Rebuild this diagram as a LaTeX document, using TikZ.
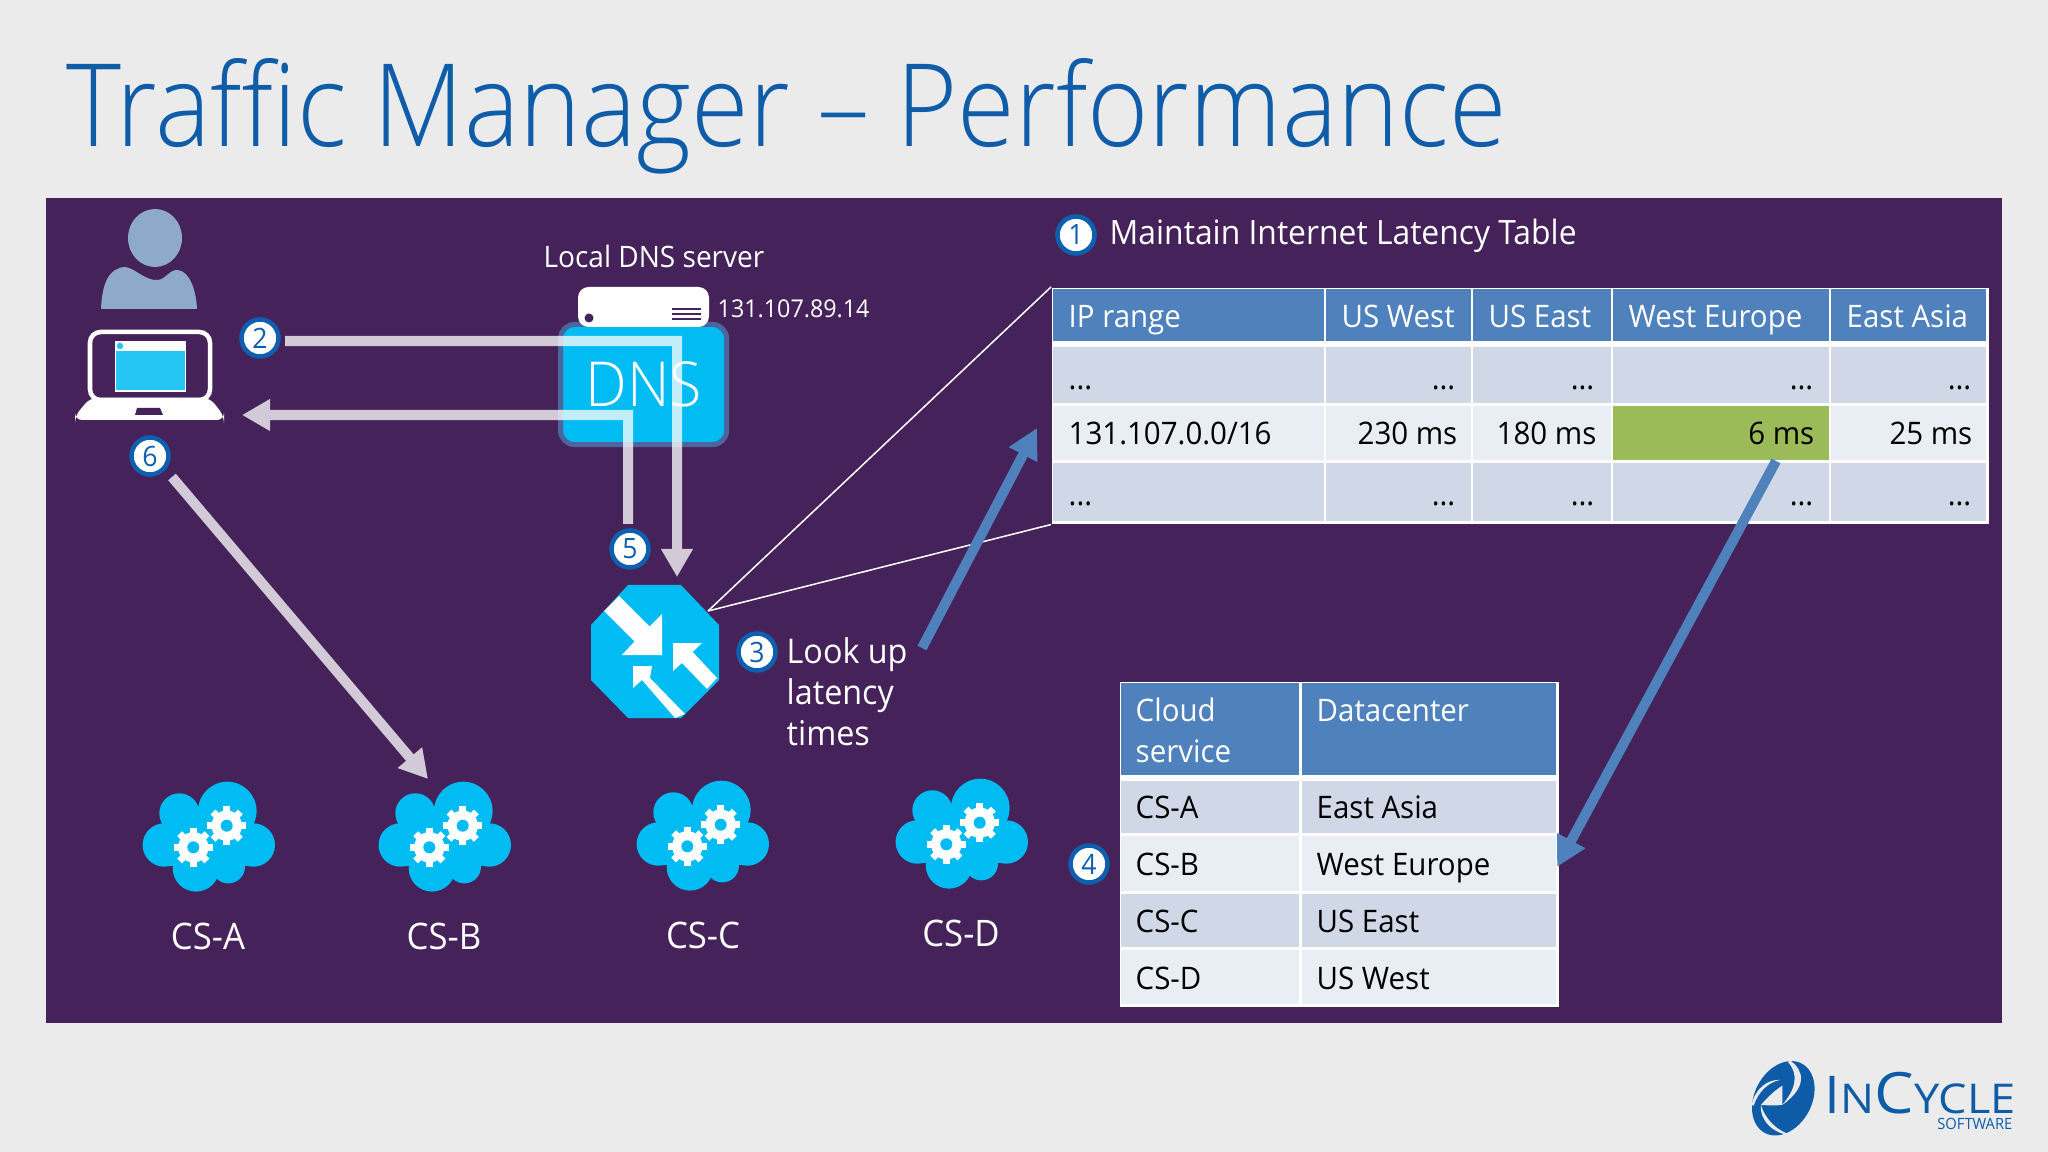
\documentclass[tikz,border=0pt]{standalone}
\usepackage{fontspec}
\usetikzlibrary{arrows.meta,calc}
\setmainfont[FakeStretch=0.95]{Open Sans}
\newfontfamily\lightf[FakeStretch=0.95]{Open Sans Light}
\newfontfamily\titlef[FakeStretch=0.91]{Open Sans Light}
\newfontfamily\logof[FakeStretch=1.1]{Open Sans}
\newcommand\pxf[1]{\fontsize{\fpeval{#1*0.2845}pt}{\fpeval{#1*0.2845*1.2}pt}\selectfont}
\definecolor{pagebg}{HTML}{EBEBEC}
\definecolor{panel}{HTML}{45235A}
\definecolor{cyanb}{HTML}{00BCF2}
\definecolor{hdr}{HTML}{4F81BD}
\definecolor{rowa}{HTML}{D0D8E8}
\definecolor{rowb}{HTML}{E9EDF4}
\definecolor{hlg}{HTML}{9BBB59}
\definecolor{titleb}{HTML}{0F5CA8}
\definecolor{ringb}{HTML}{0F5FB0}
\definecolor{persona}{HTML}{8FA9CB}
\definecolor{logob}{HTML}{0E5CA8}
\tikzset{
  lbl/.style={text=white,inner sep=0pt,font=\pxf{31}},
  th/.style={text=white,inner sep=0pt,font=\pxf{31}},
  td/.style={text=black,inner sep=0pt,font=\pxf{31}},
  badge/.style={circle,draw=ringb,fill=white,line width=0.045cm,minimum size=0.37cm,inner sep=0pt,text=ringb,font=\pxf{28}},
  flow/.style={draw=white,line width=0.1cm,line join=miter,-{Triangle[width=0.3cm,length=0.28cm]}},
  blueflow/.style={draw=hdr,line width=0.1cm,-{Triangle[width=0.3cm,length=0.3cm]}},
  thin link/.style={draw=white,line width=0.015cm},
}
\newcommand\cloudgear[2]{%
  \fill[white] (#1,#2) circle (15.2);
  \foreach \a in {0,45,...,315}{\fill[white,rotate around={\a:(#1,#2)}] ($(#1,#2)+(-3.4,-19.3)$) rectangle ($(#1,#2)+(3.4,0)$);}
  \fill[cyanb] (#1,#2) circle (6);
}
\newcommand\cloud[2]{%
  \begin{scope}[shift={(#1,#2)}]
    \fill[cyanb] (107.3,51) circle (29.3) (59.3,53.3) circle (20) (44.3,85) circle (21.7) (133.3,85) circle (21.7) (76,108.3) circle (23.3) (108.3,106.7) circle (16.7);
    \fill[cyanb] (44,65) rectangle (133,106);
    \fill[cyanb] (70,50) rectangle (120,70);
    \cloudgear{73.3}{87.3}
    \cloudgear{106.7}{65.7}
  \end{scope}}
\begin{document}
\begin{tikzpicture}[x=0.01cm,y=-0.01cm]
\useasboundingbox (0,0) rectangle (2048,1152);
\fill[pagebg] (0,0) rectangle (2048,1152);
\fill[panel] (46,198) rectangle (2002,1023);
\node[anchor=base west,inner sep=0pt,text=titleb,font=\titlef\pxf{115}] (title) at (66,147) {Traffic Manager – Performance};

% person
\fill[persona] (155,238) ellipse (27 and 29);
\fill[persona] (101,309) .. controls (102,285) and (108,268) .. (125,267) .. controls (135,268) and (145,281) .. (158,280) .. controls (166,279) and (170,269) .. (178,270) .. controls (190,272) and (196,290) .. (197,309) -- cycle;
% laptop
\draw[white,line width=0.045cm,rounded corners=3] (90,332) rectangle (210,400);
\fill[white,rounded corners=2] (90,398) -- (210,398) -- (224,416) -- (224,420) -- (75,420) -- (75,416) -- cycle;
\fill[panel] (137,408) -- (160,408) -- (163,415) -- (135,415) -- cycle;
\fill[white] (115,341) rectangle (186,392);
\fill[cyanb!85!white] (116,351) rectangle (185,390);
\fill[cyanb!85!white] (120,346) circle (3.2);

% clouds
\cloud{120}{760}
\cloud{356}{760}
\cloud{614}{759}
\cloud{873}{757}
\node[lbl,anchor=base,font=\pxf{36.5}] (csa) at (208,949) {CS-A};
\node[lbl,anchor=base,font=\pxf{36.5}] (csb) at (444,949) {CS-B};
\node[lbl,anchor=base,font=\pxf{36.5}] (csc) at (703,948) {CS-C};
\node[lbl,anchor=base,font=\pxf{36.5}] (csd) at (961,946) {CS-D};

% DNS
\node[anchor=north west,draw=hdr!70!panel,line width=0.05cm,fill=cyanb,rounded corners=0.14cm,minimum width=1.66cm,minimum height=1.2cm,inner sep=0pt,text=white,font=\lightf\pxf{62}] (dns) at (558,322) {DNS};
\fill[white,rounded corners=3] (578,287) rectangle (709,327);
\fill[panel] (589,318) circle (4.5);
\draw[panel,line width=0.012cm] (672,309) -- (701,309) (672,314) -- (701,314) (672,319) -- (701,319);
\node[lbl,anchor=base,font=\pxf{29.5}] (localdns) at (654,268) {Local DNS server};
\node[lbl,anchor=base west,font=\pxf{24.5}] (ip) at (717,318) {131.107.89.14};

% router
\fill[cyanb] (628,585) -- (681,585) -- (719,625) -- (719,680) -- (681,718) -- (628,718) -- (591,680) -- (591,625) -- cycle;
\fill[white] (604,611) -- (619,596) -- (649.5,626.5) -- (662,614) -- (662,655) -- (622,655) -- (634.5,641.5) -- cycle;
\fill[white] (717,678) -- (692.7,652) -- (702,643) -- (673,643) -- (673,671) -- (682,663) -- (707,689) -- cycle;
\fill[white] (685,714) -- (650,678) -- (652,666) -- (633,666) -- (633,688) -- (642,680) -- (675,718) -- cycle;
\coordinate (rc) at (708,611);

% tables
\node[anchor=north west,fill=white,minimum width=9.37cm,minimum height=2.36cm,inner sep=0pt] (lat) at (1051,287) {};
\foreach \xa/\xb in {1053/1324,1326/1471,1473/1611,1613/1829,1831/1986}{
  \fill[hdr] (\xa,289) rectangle (\xb,341);
  \fill[rowa] (\xa,347) rectangle (\xb,403);
  \fill[rowb] (\xa,406) rectangle (\xb,460);
  \fill[rowa] (\xa,463) rectangle (\xb,521);
}
\fill[hlg] (1613,406) rectangle (1829,460);
\node[th,anchor=base west] (h1) at (1068,328) {IP range};
\node[th,anchor=base west] (h2) at (1341,328) {US West};
\node[th,anchor=base west] (h3) at (1488,328) {US East};
\node[th,anchor=base west] (h4) at (1628,328) {West Europe};
\node[th,anchor=base west] (h5) at (1846,328) {East Asia};
\node[td,anchor=base west] (r1a) at (1068,390) {...};
\node[td,anchor=base east] (r1b) at (1456,390) {...};
\node[td,anchor=base east] (r1c) at (1595,390) {...};
\node[td,anchor=base east] (r1d) at (1814,390) {...};
\node[td,anchor=base east] (r1e) at (1972,390) {...};
\node[td,anchor=base west] (r2a) at (1068,445) {131.107.0.0/16};
\node[td,anchor=base east] (r2b) at (1458,445) {230 ms};
\node[td,anchor=base east] (r2c) at (1597,445) {180 ms};
\node[td,anchor=base east] (r2d) at (1815,445) {6 ms};
\node[td,anchor=base east] (r2e) at (1973,445) {25 ms};
\node[td,anchor=base west] (r3a) at (1068,506) {...};
\node[td,anchor=base east] (r3b) at (1456,506) {...};
\node[td,anchor=base east] (r3c) at (1595,506) {...};
\node[td,anchor=base east] (r3d) at (1814,506) {...};
\node[td,anchor=base east] (r3e) at (1972,506) {...};

\node[anchor=north west,fill=white,minimum width=4.39cm,minimum height=3.25cm,inner sep=0pt] (map) at (1119,681) {};
\foreach \xa/\xb in {1121/1299,1302/1556}{
  \fill[hdr] (\xa,683) rectangle (\xb,775);
  \fill[rowa] (\xa,781) rectangle (\xb,833);
  \fill[rowb] (\xa,836) rectangle (\xb,891);
  \fill[rowa] (\xa,894) rectangle (\xb,947);
  \fill[rowb] (\xa,950) rectangle (\xb,1004);
}
\node[th,anchor=base west] (m1) at (1135,721) {Cloud};
\node[th,anchor=base west] (m2) at (1135,762) {service};
\node[th,anchor=base west] (m3) at (1316,721) {Datacenter};
\node[td,anchor=base west] (m4) at (1135,818) {CS-A};
\node[td,anchor=base west] (m5) at (1316,818) {East Asia};
\node[td,anchor=base west] (m6) at (1135,875) {CS-B};
\node[td,anchor=base west] (m7) at (1316,875) {West Europe};
\node[td,anchor=base west] (m8) at (1135,932) {CS-C};
\node[td,anchor=base west] (m9) at (1316,932) {US East};
\node[td,anchor=base west] (m10) at (1135,989) {CS-D};
\node[td,anchor=base west] (m11) at (1316,989) {US West};

\draw[thin link] (rc) -- (lat.north west);
\draw[thin link] (rc) -- (lat.south west);

% text labels
\node[lbl,anchor=base west,font=\pxf{33.5}] (maintain) at (1109,245) {Maintain Internet Latency Table};
\node[lbl,anchor=base west,font=\pxf{34}] (look1) at (786,663) {Look up};
\node[lbl,anchor=base west,font=\pxf{34}] (look2) at (786,704) {latency};
\node[lbl,anchor=base west,font=\pxf{34}] (look3) at (786,745) {times};

% badges
\node[badge] (b1) at (1076,235) {1};
\node[badge] (b2) at (260,338) {2};
\node[badge] (b3) at (757,652) {3};
\node[badge] (b4) at (1089,864) {4};
\node[badge] (b5) at (630,549) {5};
\node[badge] (b6) at (150,456) {6};

% connectors
\coordinate (a2s) at (285,341);
\coordinate (a2t) at (677,577);
\coordinate (a5s) at (628,524);
\coordinate (a5t) at (242,415);
\coordinate (a6s) at (172,477);
\coordinate (a6t) at (428,779);
\coordinate (a3s) at (922,648);
\coordinate (a3t) at (1037,428);
\coordinate (a4s) at (1776,461);
\coordinate (a4t) at (1557,867);
\begin{scope}[transparency group,opacity=.76]
  \draw[flow] (a2s) -| (a2t);
  \draw[flow] (a5s) |- (a5t);
  \draw[flow] (a6s) -- (a6t);
\end{scope}
\draw[blueflow] (a3s) -- (a3t);
\draw[blueflow] (a4s) -- (a4t);

% logo
\begin{scope}[shift={(1745,1055)},x=0.00333cm,y=-0.00333cm]
\fill[logob,rotate around={-28:(115,130)}] (115,130) ellipse (86 and 118);
\fill[pagebg] (138,18) .. controls (175,45) and (190,95) .. (112,150) .. controls (150,105) and (165,60) .. (128,20) -- cycle;
\fill[pagebg] (112,92) .. controls (85,110) and (65,130) .. (48,150) .. controls (75,152) and (95,152) .. (112,150) -- cycle;
\fill[pagebg] (20,150) .. controls (30,100) and (70,72) .. (105,75) .. controls (70,82) and (40,110) .. (26,152) -- cycle;
\fill[pagebg] (48,150) .. controls (42,190) and (80,238) .. (142,242) .. controls (90,225) and (60,190) .. (48,150) -- cycle;
\end{scope}
\node[anchor=base west,inner sep=0pt,text depth=0pt,text=logob,font=\logof\pxf{52}] (logoa) at (1824,1113) {I\pxf{41}N\pxf{57}C\pxf{41}YCLE};
\node[anchor=base east,inner sep=0pt,text=logob,font=\pxf{15.5}] (logob) at (2013,1129) {SOFTWARE};
\end{tikzpicture}
\end{document}
